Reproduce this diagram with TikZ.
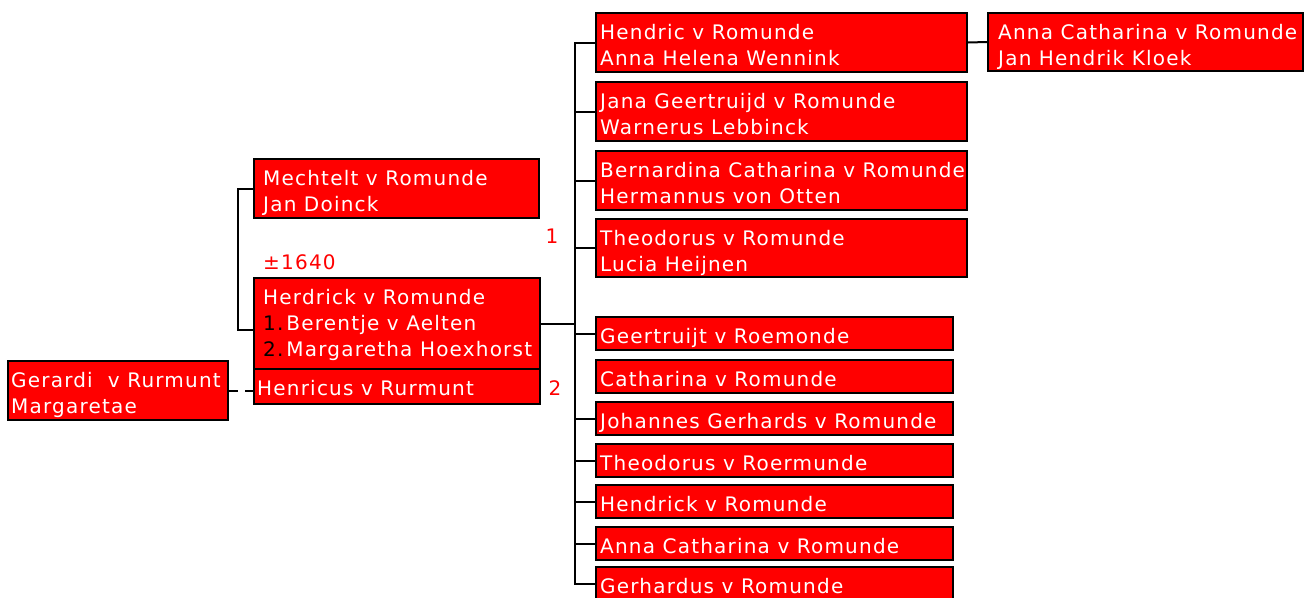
\documentclass[tikz,border=0pt]{standalone}
\usepackage{fontspec}
\setmainfont{DejaVu Sans}[LetterSpace=6]
\usetikzlibrary{calc}
\definecolor{boxred}{RGB}{255,0,0}
\newcommand{\fambox}[7]{%
  \node[box, minimum width=#4pt, minimum height=#5pt] (#1) at (#2,#3) {};
  \node[txt] (#1-t) at ($(#1.north west)+(#6,11)$) {\rule{0pt}{16pt}#7};}
\begin{document}
\begin{tikzpicture}[x=1pt,y=-1pt,
  box/.style={draw=black, line width=2pt, fill=boxred, anchor=north west, inner sep=0pt},
  txt/.style={anchor=north west, inner sep=0pt, text=white, align=left, font=\fontsize{20pt}{26pt}\selectfont},
  lbl/.style={anchor=base, inner sep=0pt, text=boxred, font=\fontsize{20pt}{26pt}\selectfont},
  conn/.style={draw=black, line width=2pt}]
\useasboundingbox (0,0) rectangle (1306,597);
% boxes
\fambox{gerardi}{7}{360}{220}{59}{4}{Gerardi\ \ v Rurmunt\\Margaretae}
\fambox{henricus}{253}{368}{286}{35}{4}{Henricus v Rurmunt}
\fambox{herdrick}{253}{277}{286}{91}{10}{Herdrick v Romunde\\{\color{black}1.}\hspace{3pt}Berentje v Aelten\\{\color{black}2.}\hspace{3pt}Margaretha Hoexhorst}
\fambox{mechtelt}{253}{158}{285}{59}{10}{Mechtelt v Romunde\\Jan Doinck}
\fambox{hendric}{595}{12}{371}{59}{5}{Hendric v Romunde\\Anna Helena Wennink}
\fambox{jana}{595}{81}{371}{59}{5}{Jana Geertruijd v Romunde\\Warnerus Lebbinck}
\fambox{bernardina}{595}{150}{371}{59}{5}{Bernardina Catharina v Romunde\\Hermannus von Otten}
\fambox{theodorus}{595}{218}{371}{58}{5}{Theodorus v Romunde\\Lucia Heijnen}
\fambox{geertruijt}{595}{316}{357}{33}{5}{Geertruijt v Roemonde}
\fambox{catharina}{595}{359}{357}{33}{5}{Catharina v Romunde}
\fambox{johannes}{595}{401}{357}{33}{5}{Johannes Gerhards v Romunde}
\fambox{theodorusb}{595}{443}{357}{33}{5}{Theodorus v Roermunde}
\fambox{hendrick}{595}{484}{357}{33}{5}{Hendrick v Romunde}
\fambox{annacath}{595}{526}{357}{33}{5}{Anna Catharina v Romunde}
\fambox{gerhardus}{595}{566}{357}{34}{5}{Gerhardus v Romunde}
\fambox{annak}{987}{12}{315}{58}{11}{Anna Catharina v Romunde\\Jan Hendrik Kloek}
% labels
\node[lbl, anchor=base west] (date) at (263,269) {±1640};
\node[lbl] (one) at (552,243) {1};
\node[lbl] (two) at (555,395) {2};
% connectors
\draw[conn] (mechtelt.west) -- ++(-15,0) |- ($(herdrick.north west)+(0,53)$);
\draw[conn, dash pattern=on 9pt off 7pt] (gerardi.east) -- (gerardi.east -| henricus.west);
\foreach \c in {hendric,jana,bernardina,theodorus,geertruijt,johannes,theodorusb,hendrick,annacath,gerhardus}
  \draw[conn] (herdrick.east) -- ++(34,0) |- (\c.west);
\draw[conn] (hendric.east) -- (annak.west);
\end{tikzpicture}
\end{document}
